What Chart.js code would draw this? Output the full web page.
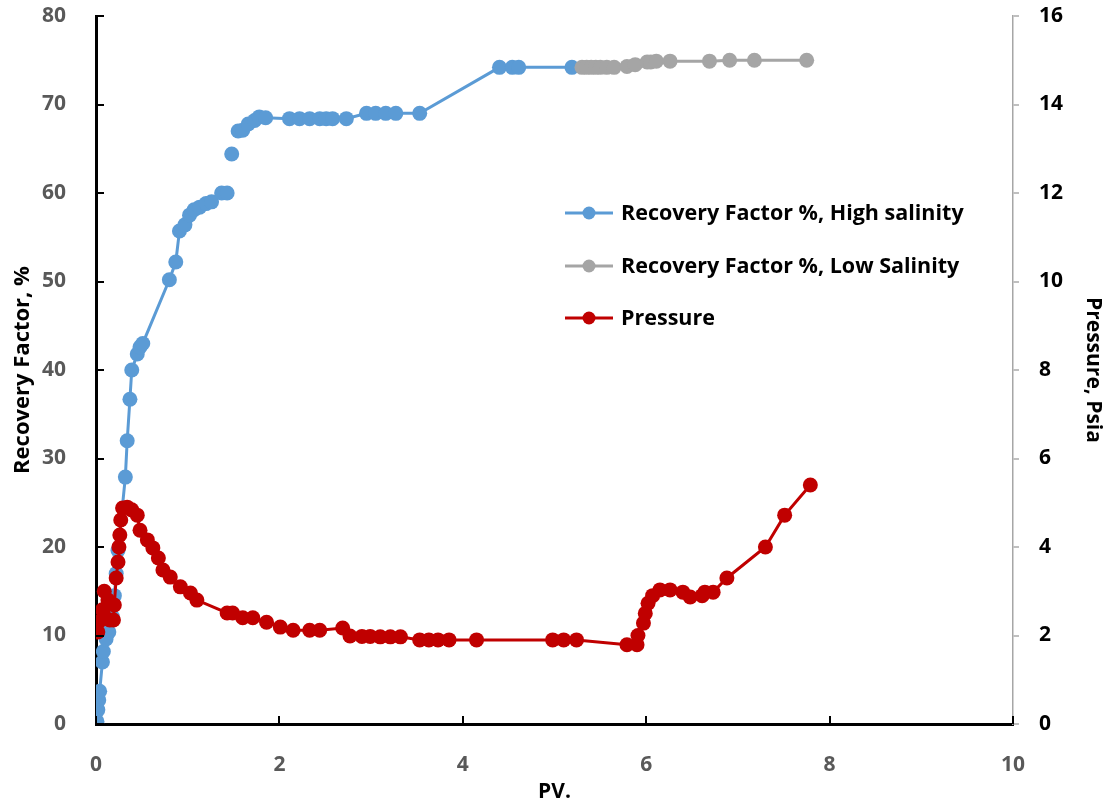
<!DOCTYPE html>
<html>
<head>
<meta charset="utf-8">
<script src="https://cdn.jsdelivr.net/npm/chart.js@4.4.1/dist/chart.umd.min.js"></script>
<style>
  html, body { margin: 0; padding: 0; background: #fff; }
  #wrap { width: 1106px; height: 809px; }
</style>
</head>
<body>
<div id="wrap"><canvas id="myChart" width="1106" height="809"></canvas></div>
<script>
// PV injected vs recovery factor, high salinity flood (null = break in line)
const pvHigh = [0.01, 0.02, 0.03, 0.04, 0.07, 0.08, 0.11, 0.14, 0.18, 0.2, 0.22, 0.24, 0.32, 0.34, 0.37, 0.39, 0.45, 0.48, 0.51,
  0.8, 0.87, 0.91, 0.97, 1.02, 1.07, 1.13, 1.2, 1.26, 1.3, 1.37, 1.43, 1.46, 1.48, 1.52, 1.55, 1.6, 1.66, 1.73, 1.78, 1.85,
  2.11, 2.22, 2.33, 2.44, 2.51, 2.58, 2.73, 2.95, 3.05, 3.16, 3.27, 3.53, 4.4, 4.54, 4.61, 5.19];
const rfHigh = [0.3, 1.6, 2.7, 3.7, 7, 8.2, 9.6, 10.4, 12.1, 14.5, 17, 19.6, 27.9, 32, 36.7, 40, 41.8, 42.6, 43,
  50.2, 52.2, 55.7, 56.4, 57.5, 58.1, 58.4, 58.8, 59, null, 60, 60, null, 64.4, null, 67, 67.1, 67.8, 68.2, 68.6, 68.5,
  68.4, 68.4, 68.4, 68.4, 68.4, 68.4, 68.4, 69, 69, 69, 69, 69, 74.2, 74.2, 74.2, 74.2];

// low salinity flood
const pvLow = [5.3, 5.35, 5.4, 5.45, 5.5, 5.57, 5.65, 5.79, 5.88, 6.01, 6.05, 6.11, 6.26, 6.69, 6.91, 7.18, 7.75];
const rfLow = [74.2, 74.2, 74.2, 74.2, 74.2, 74.2, 74.2, 74.3, 74.5, 74.8, 74.8, 74.9, 74.9, 74.9, 75, 75, 75];

// differential pressure, psia
const pvPress = [0.02, 0.03, 0.07, 0.09, 0.13, 0.15, 0.19, 0.2, 0.22, 0.24, 0.25, 0.26, 0.27, 0.29, 0.34, 0.39, 0.45, 0.48,
  0.56, 0.62, 0.68, 0.73, 0.81, 0.92, 1.03, 1.1, 1.43, 1.49, 1.6, 1.71, 1.86, 2.01, 2.15, 2.33, 2.44, 2.69,
  2.77, 2.9, 2.99, 3.1, 3.21, 3.32, 3.53, 3.63, 3.73, 3.85, 4.15, 4.98, 5.1, 5.24,
  5.79, 5.9, 5.91, 5.97, 5.99, 6.02, 6.07, 6.15, 6.26, 6.4, 6.48, 6.61, 6.64, 6.73, 6.88, 7.3, 7.51, 7.79];
const pressure = [2.08, 2.31, 2.58, 3.0, 2.8, 2.35, 2.35, 2.69, 3.3, 3.66, 4.0, 4.27, 4.61, 4.88, 4.9, 4.84, 4.72, 4.38,
  4.16, 3.98, 3.75, 3.48, 3.32, 3.1, 2.96, 2.8, 2.51, 2.51, 2.4, 2.4, 2.3, 2.19, 2.12, 2.12, 2.12, 2.17,
  1.99, 1.98, 1.98, 1.97, 1.97, 1.97, 1.9, 1.9, 1.9, 1.9, 1.9, 1.9, 1.9, 1.9,
  1.79, 1.79, 2.0, 2.28, 2.5, 2.73, 2.9, 3.03, 3.03, 2.98, 2.87, 2.9, 2.98, 2.98, 3.3, 4.0, 4.72, 5.4];

const FONT = '"Open Sans", Lato, sans-serif';

function pts(xs, ys) {
  return xs.map((x, i) => ({ x: x, y: ys[i] }));
}

function serie(label, xs, ys, color, axis, order) {
  return {
    label: label,
    data: pts(xs, ys),
    yAxisID: axis,
    borderColor: color,
    backgroundColor: color,
    borderWidth: 3,
    pointRadius: 7.5,
    pointHoverRadius: 7.5,
    pointBorderWidth: 0,
    spanGaps: false,
    order: order
  };
}

// ticks drawn inside the plot on the left and bottom axes
const insideTicks = {
  id: 'insideTicks',
  afterDraw(chart) {
    const c = chart.ctx;
    const a = chart.chartArea;
    c.save();
    c.strokeStyle = '#000';
    c.lineWidth = 2;
    chart.scales.y.ticks.forEach(t => {
      const y = Math.round(chart.scales.y.getPixelForValue(t.value));
      c.beginPath(); c.moveTo(a.left, y); c.lineTo(a.left + 8, y); c.stroke();
    });
    chart.scales.x.ticks.forEach(t => {
      const x = Math.round(chart.scales.x.getPixelForValue(t.value));
      c.beginPath(); c.moveTo(x, a.bottom); c.lineTo(x, a.bottom - 8); c.stroke();
    });
    c.restore();
  }
};

// legend with line + marker entries
const legendBox = {
  id: 'legendBox',
  afterDraw(chart) {
    const c = chart.ctx;
    const rows = [
      ['Recovery Factor %, High salinity', '#5b9bd5', 213],
      ['Recovery Factor %, Low Salinity', '#a5a5a5', 266],
      ['Pressure', '#c00000', 318]
    ];
    c.save();
    c.font = 'bold 21.5px ' + FONT;
    c.textBaseline = 'middle';
    rows.forEach(r => {
      c.strokeStyle = r[1];
      c.fillStyle = r[1];
      c.lineWidth = 3;
      c.beginPath(); c.moveTo(565, r[2]); c.lineTo(613, r[2]); c.stroke();
      c.beginPath(); c.arc(589, r[2], 6.5, 0, Math.PI * 2); c.fill();
      c.fillStyle = '#000';
      c.fillText(r[0], 621, r[2] + 1);
    });
    c.restore();
  }
};

function noPad(s) {
  s.paddingTop = 0; s.paddingBottom = 0; s.paddingLeft = 0; s.paddingRight = 0;
}

const ctx = document.getElementById('myChart').getContext('2d');
const myChart = new Chart(ctx, {
  type: 'line',
  data: {
    datasets: [
      serie('Recovery Factor %, High salinity', pvHigh, rfHigh, '#5b9bd5', 'y', 2),
      serie('Recovery Factor %, Low Salinity', pvLow, rfLow, '#a5a5a5', 'y', 1),
      serie('Pressure', pvPress, pressure, '#c00000', 'y1', 0)
    ]
  },
  options: {
    responsive: false,
    animation: false,
    layout: { padding: { top: 16, left: 0, right: 0, bottom: 0 } },
    plugins: { legend: { display: false }, tooltip: { enabled: false } },
    scales: {
      x: {
        type: 'linear',
        min: 0, max: 10,
        ticks: { stepSize: 2, color: '#595959', font: { family: FONT, size: 21, weight: 'bold' }, padding: 20 },
        grid: { display: false },
        border: { display: true, color: '#000', width: 3 },
        title: { display: true, text: 'PV.', color: '#000', font: { family: FONT, size: 21, weight: 'bold' }, padding: { top: 2 } },
        afterFit(s) { s.height = 85; noPad(s); }
      },
      y: {
        position: 'left',
        min: 0, max: 80,
        ticks: { stepSize: 10, color: '#595959', font: { family: FONT, size: 21, weight: 'bold' }, padding: 22 },
        grid: { display: false },
        border: { display: true, color: '#000', width: 3 },
        title: { display: true, text: 'Recovery Factor, %', color: '#000', font: { family: FONT, size: 22, weight: 'bold' }, padding: { top: 10, bottom: 0 } },
        afterFit(s) { s.width = 96; noPad(s); }
      },
      y1: {
        position: 'right',
        min: 0, max: 16,
        ticks: { stepSize: 2, color: '#000', font: { family: FONT, size: 21, weight: 'bold' }, padding: 20 },
        grid: { drawOnChartArea: false, drawTicks: true, tickLength: 6, color: '#bfbfbf', lineWidth: 2 },
        border: { display: true, color: '#a6a6a6', width: 1.5 },
        title: { display: true, text: 'Pressure, Psia', color: '#000', font: { family: FONT, size: 21, weight: 'bold' }, padding: { top: 0, bottom: 2 } },
        afterFit(s) { s.width = 93; noPad(s); }
      }
    }
  },
  plugins: [insideTicks, legendBox]
});
</script>
</body>
</html>
